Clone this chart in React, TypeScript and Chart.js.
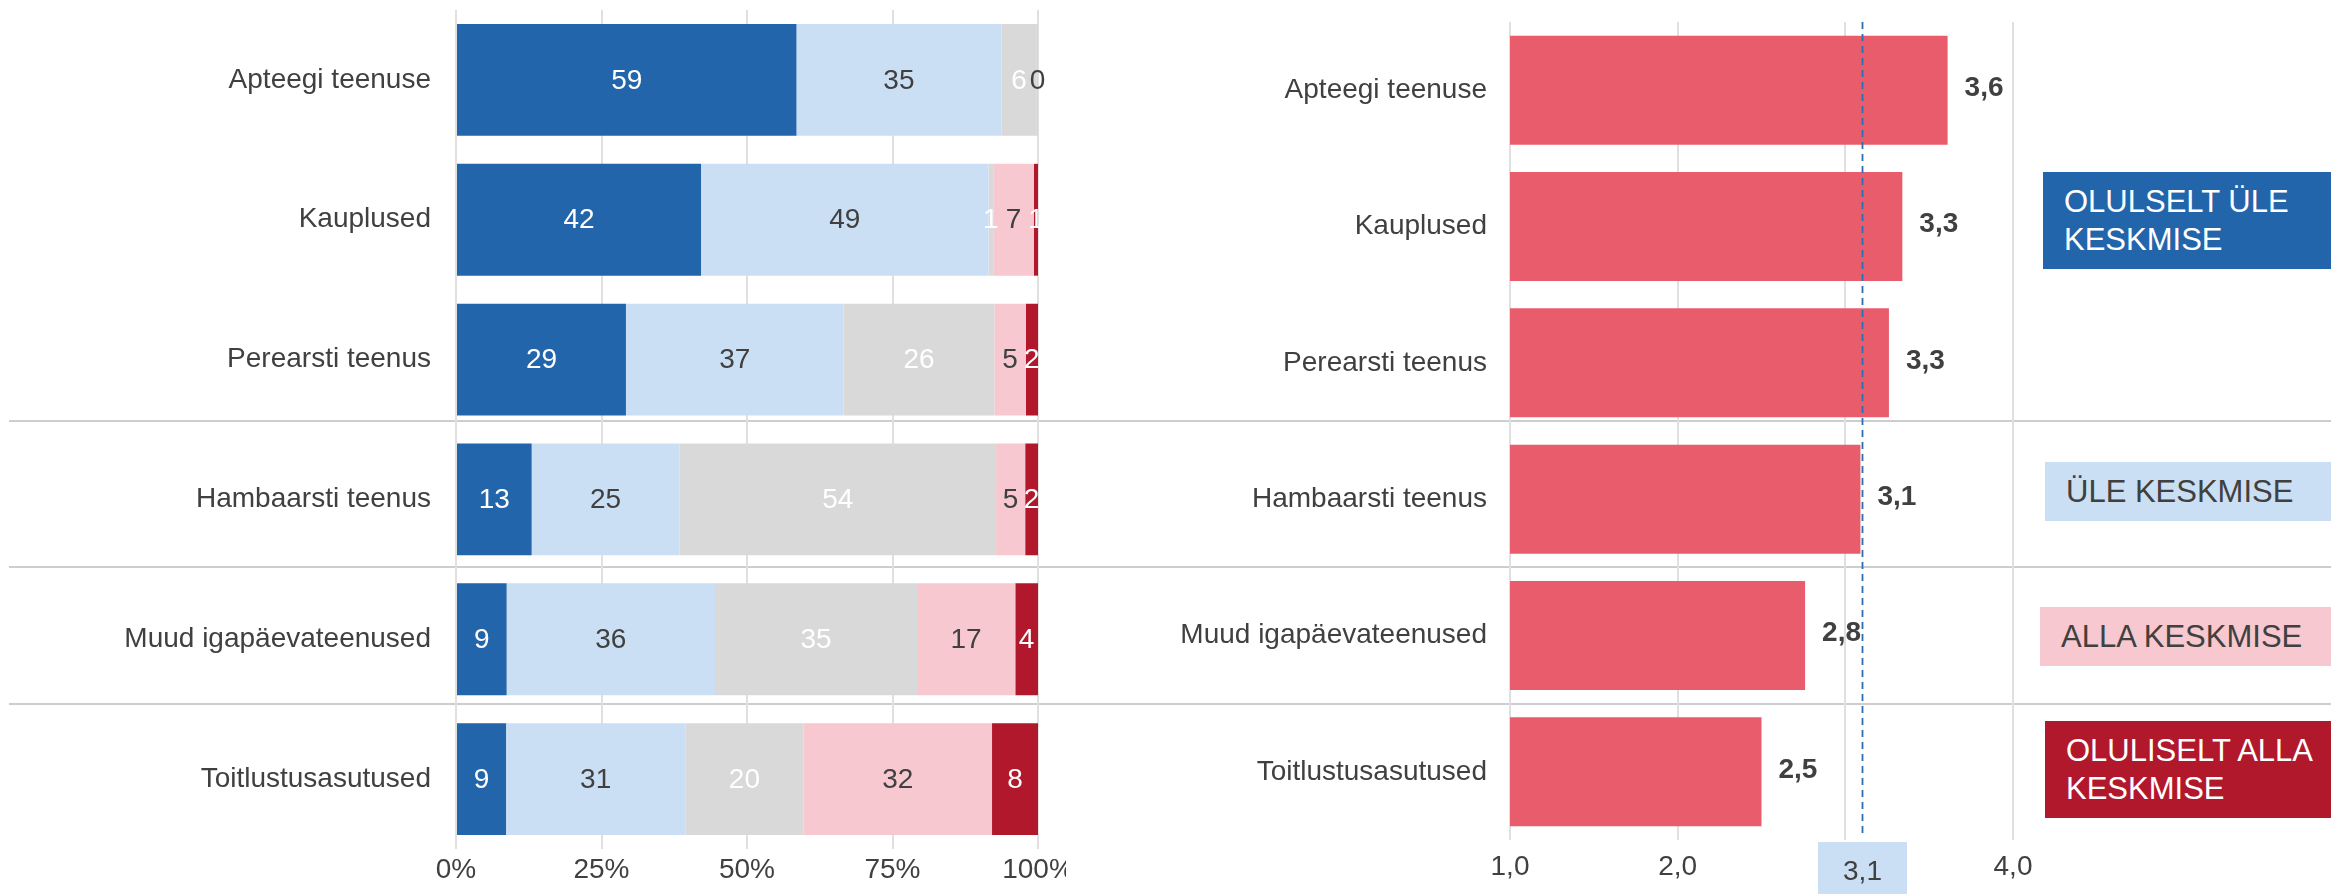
import React, { useEffect, useRef } from 'react';
import { Chart, registerables } from 'chart.js';

Chart.register(...registerables);

const FONT = "'Liberation Sans', Arial, Helvetica, sans-serif";
const TEXT = '#404040';
const GRID = '#e0e0e0';

// ---- data ----
const categories = [
  'Apteegi teenuse',
  'Kauplused',
  'Perearsti teenus',
  'Hambaarsti teenus',
  'Muud igapäevateenused',
  'Toitlustusasutused',
];
const segmentNames = ['Väga rahul', 'Pigem rahul', 'Ei oska öelda', 'Pigem rahulolematu', 'Väga rahulolematu'];
const veryGood = [58.5, 42.1, 29.2, 13.0, 8.7, 8.6];
const good = [35.2, 49.4, 37.4, 25.4, 35.8, 30.8];
const neutral = [6.1, 0.8, 25.9, 54.4, 34.7, 20.3];
const bad = [0.2, 7.0, 5.4, 5.0, 16.9, 32.4];
const veryBad = [null, 0.7, 2.1, 2.2, 3.9, 7.9];
const pctTicks = [0, 25, 50, 75, 100];

const scores = [3.61, 3.34, 3.26, 3.09, 2.76, 2.5];
const average = 3.1;
const scoreMin = 1;
const scoreMax = 4;
const scoreTickLabels = ['1,0', '2,0', '', '4,0'];

const groupLabels = [['OLULSELT ÜLE', 'KESKMISE'], ['ÜLE KESKMISE'], ['ALLA KESKMISE'], ['OLULISELT ALLA', 'KESKMISE']];

// ---- styles ----
const segmentColors = ['#2265ab', '#cadff3', '#d9d9d9', '#f7c8cf', '#b1182c'];
const segmentLabelColors = ['#ffffff', TEXT, '#ffffff', TEXT, '#ffffff'];
const scoreColor = '#e85c6c';
const groupColors = ['#2265ab', '#cadff3', '#f7c8cf', '#b1182c'];
const groupTextColors = ['#ffffff', TEXT, TEXT, '#ffffff'];
const groupBoxes = [
  { left: 2043, top: 172, height: 97 },
  { left: 2045, top: 462, height: 59 },
  { left: 2040, top: 607, height: 59 },
  { left: 2045, top: 721, height: 97 },
];
const separatorTops = [420, 566, 703];

const fmt1 = (v: number) => v.toFixed(1).replace('.', ',');

const stackLabelPlugin = {
  id: 'stackLabels',
  afterDatasetsDraw(chart: any) {
    const ctx = chart.ctx;
    ctx.save();
    ctx.font = `28px ${FONT}`;
    ctx.textAlign = 'center';
    ctx.textBaseline = 'middle';
    chart.data.datasets.forEach((ds: any, i: number) => {
      const meta = chart.getDatasetMeta(i);
      meta.data.forEach((bar: any, j: number) => {
        const v = ds.data[j];
        if (v == null) return;
        const p = bar.getProps(['x', 'y', 'base'], true);
        ctx.fillStyle = segmentLabelColors[i];
        ctx.fillText(String(Math.round(v)), (p.x + p.base) / 2, p.y + 1);
      });
    });
    ctx.restore();
  },
};

const scorePlugin = {
  id: 'scoreDecor',
  afterDatasetsDraw(chart: any) {
    const ctx = chart.ctx;
    const xs = chart.scales.x;
    const area = chart.chartArea;
    ctx.save();
    // value labels
    ctx.font = `bold 28px ${FONT}`;
    ctx.textAlign = 'left';
    ctx.textBaseline = 'middle';
    ctx.fillStyle = TEXT;
    const meta = chart.getDatasetMeta(0);
    meta.data.forEach((bar: any, j: number) => {
      const p = bar.getProps(['x', 'y'], true);
      ctx.fillText(fmt1(scores[j]), p.x + 17, p.y - 2);
    });
    // average dashed line
    const ax = Math.round(xs.getPixelForValue(average)) + 0.5;
    ctx.strokeStyle = '#2d6db2';
    ctx.lineWidth = 1.8;
    ctx.setLineDash([7, 5]);
    ctx.beginPath();
    ctx.moveTo(ax, area.top);
    ctx.lineTo(ax, area.bottom - 4);
    ctx.stroke();
    ctx.setLineDash([]);
    // average label box
    const bw = 89;
    const top = area.bottom + 2;
    ctx.fillStyle = '#cadff3';
    ctx.fillRect(ax - bw / 2, top, bw, chart.height - top);
    ctx.fillStyle = TEXT;
    ctx.font = `28px ${FONT}`;
    ctx.textAlign = 'center';
    ctx.fillText(fmt1(average), ax, top + 30);
    ctx.restore();
  },
};

function LeftChart() {
  const ref = useRef<HTMLCanvasElement>(null);
  useEffect(() => {
    const chart = new Chart(ref.current as HTMLCanvasElement, {
      type: 'bar',
      data: {
        labels: categories,
        datasets: [veryGood, good, neutral, bad, veryBad].map((d, i) => ({
          label: segmentNames[i],
          data: d as any,
          backgroundColor: segmentColors[i],
          borderWidth: 0,
          barPercentage: 0.8,
          categoryPercentage: 1,
        })),
      },
      options: {
        indexAxis: 'y',
        responsive: false,
        animation: false,
        devicePixelRatio: 1,
        layout: { padding: { top: 10, right: 28, left: 0, bottom: 0 } },
        plugins: { legend: { display: false }, tooltip: { enabled: false } },
        scales: {
          x: {
            stacked: true,
            min: pctTicks[0],
            max: pctTicks[pctTicks.length - 1],
            afterBuildTicks: (s: any) => {
              s.ticks = pctTicks.map((v) => ({ value: v }));
            },
            afterFit: (s: any) => {
              s.height = 45;
              s.paddingLeft = 0;
              s.paddingRight = 0;
            },
            grid: { color: GRID, lineWidth: 2, drawTicks: false },
            border: { display: false },
            ticks: {
              padding: 4,
              color: TEXT,
              font: { family: FONT, size: 28 },
              maxRotation: 0,
              callback: (v: any) => `${v}%`,
            },
          },
          y: {
            stacked: true,
            afterFit: (s: any) => {
              s.width = 456;
              s.paddingTop = 0;
              s.paddingBottom = 0;
            },
            grid: { display: false, drawTicks: false },
            border: { display: false },
            ticks: {
              padding: 25,
              autoSkip: false,
              color: TEXT,
              font: { family: FONT, size: 28 },
            },
          },
        },
      } as any,
      plugins: [stackLabelPlugin],
    });
    return () => chart.destroy();
  }, []);
  return (
    <canvas
      ref={ref}
      width={1066}
      height={894}
      style={{ position: 'absolute', left: 0, top: 0, width: 1066, height: 894 }}
    />
  );
}

function RightChart() {
  const ref = useRef<HTMLCanvasElement>(null);
  useEffect(() => {
    const chart = new Chart(ref.current as HTMLCanvasElement, {
      type: 'bar',
      data: {
        labels: categories,
        datasets: [
          {
            label: 'Keskmine hinne',
            data: scores,
            backgroundColor: scoreColor,
            borderWidth: 0,
            barPercentage: 0.8,
            categoryPercentage: 1,
          },
        ],
      },
      options: {
        indexAxis: 'y',
        responsive: false,
        animation: false,
        devicePixelRatio: 1,
        layout: { padding: { top: 22, right: 27, left: 0, bottom: 0 } },
        plugins: { legend: { display: false }, tooltip: { enabled: false } },
        scales: {
          x: {
            min: scoreMin,
            max: scoreMax,
            afterBuildTicks: (s: any) => {
              s.ticks = scoreTickLabels.map((_, i) => ({ value: scoreMin + i }));
            },
            afterFit: (s: any) => {
              s.height = 54;
              s.paddingLeft = 0;
              s.paddingRight = 0;
            },
            grid: { color: GRID, lineWidth: 2, drawTicks: false },
            border: { display: false },
            ticks: {
              padding: 10,
              color: TEXT,
              font: { family: FONT, size: 28 },
              maxRotation: 0,
              callback: (_v: any, i: number) => scoreTickLabels[i],
            },
          },
          y: {
            afterFit: (s: any) => {
              s.width = 410;
              s.paddingTop = 0;
              s.paddingBottom = 0;
            },
            grid: { display: false, drawTicks: false },
            border: { display: false },
            ticks: {
              padding: 23,
              autoSkip: false,
              color: TEXT,
              font: { family: FONT, size: 28 },
            },
          },
        },
      } as any,
      plugins: [scorePlugin],
    });
    return () => chart.destroy();
  }, []);
  return (
    <canvas
      ref={ref}
      width={940}
      height={894}
      style={{ position: 'absolute', left: 1100, top: 0, width: 940, height: 894 }}
    />
  );
}

export default function App() {
  useEffect(() => {
    document.body.style.margin = '0';
    document.body.style.overflow = 'hidden';
  }, []);
  return (
    <div
      style={{
        position: 'absolute',
        left: 0,
        top: 0,
        width: 2331,
        height: 894,
        overflow: 'hidden',
        background: '#ffffff',
        fontFamily: FONT,
      }}
    >
      {separatorTops.map((t, i) => (
        <div
          key={'sep' + i}
          style={{ position: 'absolute', left: 9, top: t, width: 2322, height: 2, background: '#cdcdcd' }}
        />
      ))}
      <LeftChart />
      <RightChart />
      {groupLabels.map((lines, i) => (
        <div
          key={'grp' + i}
          style={{
            position: 'absolute',
            left: groupBoxes[i].left,
            top: groupBoxes[i].top,
            width: 2331 - groupBoxes[i].left,
            height: groupBoxes[i].height,
            background: groupColors[i],
            color: groupTextColors[i],
            fontSize: 31,
            lineHeight: '38px',
            paddingLeft: 21,
            boxSizing: 'border-box',
            display: 'flex',
            flexDirection: 'column',
            justifyContent: 'center',
            whiteSpace: 'nowrap',
          }}
        >
          {lines.map((l, k) => (
            <div key={k}>{l}</div>
          ))}
        </div>
      ))}
    </div>
  );
}
